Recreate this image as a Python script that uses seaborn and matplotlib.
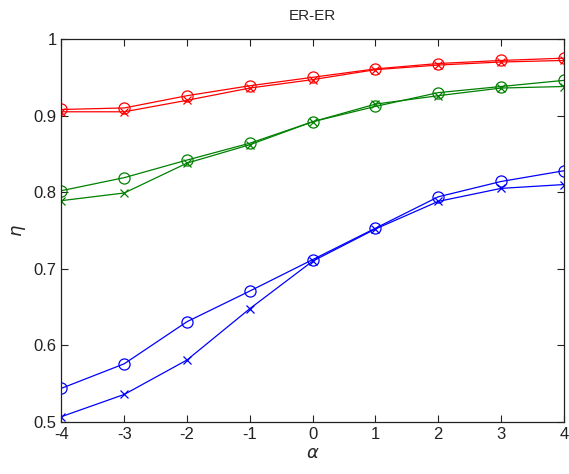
import numpy as np
import pandas as pd
import matplotlib
matplotlib.use("Agg")
import matplotlib.pyplot as plt
import seaborn as sns

# Reading values off the picture
alpha = [-4, -3, -2, -1, 0, 1, 2, 3, 4]

red_o   = [0.908, 0.910, 0.926, 0.939, 0.950, 0.961, 0.968, 0.972, 0.975]
red_x   = [0.905, 0.905, 0.920, 0.936, 0.947, 0.960, 0.966, 0.970, 0.972]
green_o = [0.802, 0.819, 0.842, 0.864, 0.892, 0.912, 0.930, 0.938, 0.946]
green_x = [0.789, 0.799, 0.838, 0.862, 0.892, 0.915, 0.926, 0.936, 0.938]
blue_o  = [0.544, 0.576, 0.631, 0.671, 0.712, 0.753, 0.794, 0.814, 0.828]
blue_x  = [0.507, 0.536, 0.581, 0.648, 0.710, 0.752, 0.788, 0.805, 0.810]

series = [
    (red_o, "#ff0000", "o"), (red_x, "#ff0000", "x"),
    (green_o, "#008000", "o"), (green_x, "#008000", "x"),
    (blue_o, "#0000ff", "o"), (blue_x, "#0000ff", "x"),
]

sns.set_style("ticks")
plt.rcParams["font.family"] = ["Liberation Sans", "DejaVu Sans"]
plt.rcParams["axes.unicode_minus"] = False

fig = plt.figure(figsize=(5.69, 4.74), dpi=100)
ax = fig.add_axes([0.108, 0.1097, 0.883, 0.808])

for vals, col, mk in series:
    df = pd.DataFrame({"alpha": alpha, "eta": vals})
    sns.lineplot(data=df, x="alpha", y="eta", color=col, marker=mk,
                 markersize=8 if mk == "o" else 6, markerfacecolor="none",
                 markeredgecolor=col, markeredgewidth=0.9, linewidth=0.9, ax=ax)

ax.set_xlim(-4, 4)
ax.set_ylim(0.5, 1)
ax.set_xticks(alpha)
ax.set_yticks([0.5, 0.6, 0.7, 0.8, 0.9, 1.0])
ax.set_yticklabels(["0.5", "0.6", "0.7", "0.8", "0.9", "1"])
ax.tick_params(direction="in", length=5, labelsize=12, top=True, right=True,
               labeltop=False, labelright=False, width=0.8, colors="#222222")
for s in ax.spines.values():
    s.set_linewidth(0.9)
    s.set_color("#222222")

ax.set_xlabel(r"$\alpha$", fontsize=13, labelpad=2)
ax.set_ylabel(r"$\eta$", fontsize=13, labelpad=4)
ax.set_title("ER-ER", fontsize=11, pad=14)

fig.savefig("out.png", dpi=100)
